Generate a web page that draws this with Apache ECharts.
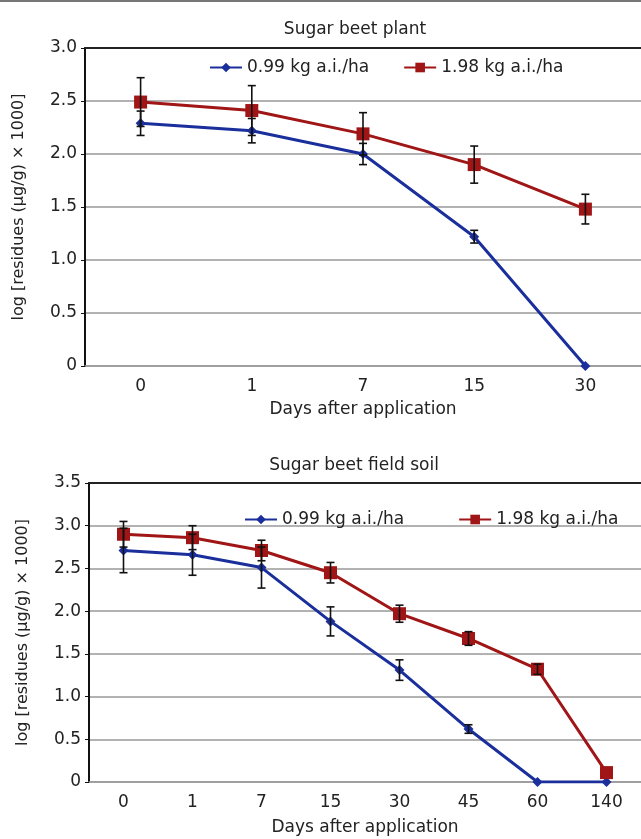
<!DOCTYPE html>
<html>
<head>
<meta charset="utf-8">
<script src="https://cdn.jsdelivr.net/npm/echarts@6/dist/echarts.min.js"></script>
<style>
  html, body { margin: 0; padding: 0; background: #fff; }
  #chart { width: 641px; height: 839px; }
</style>
</head>
<body>
<div id="chart"></div>
<script>
  // 上图：甜菜植株
  var plantDays = ['0', '1', '7', '15', '30'];
  var plant099 = [2.29, 2.22, 2.00, 1.22, 0];
  var plant198 = [2.49, 2.41, 2.19, 1.90, 1.48];
  var plantErr099 = [0.115, 0.115, 0.10, 0.06, 0];
  var plantErr198 = [0.23, 0.235, 0.20, 0.175, 0.14];

  // 下图：甜菜田土壤
  var soilDays = ['0', '1', '7', '15', '30', '45', '60', '140'];
  var soil099 = [2.71, 2.66, 2.51, 1.88, 1.31, 0.62, 0, 0];
  var soil198 = [2.90, 2.86, 2.71, 2.45, 1.97, 1.68, 1.32, 0.11];
  var soilErr099 = [0.26, 0.24, 0.24, 0.17, 0.12, 0.05, 0, 0];
  var soilErr198 = [0.15, 0.14, 0.12, 0.12, 0.10, 0.08, 0.06, 0];

  var name099 = '0.99 kg a.i./ha';
  var name198 = '1.98 kg a.i./ha';
  var blue = '#1a2f9c';
  var red = '#a01515';
  var font = 'DejaVu Sans, Liberation Sans, sans-serif';

  function errData(vals, errs) {
    var out = [];
    for (var i = 0; i < vals.length; i++) {
      if (errs[i] > 0) out.push([i, vals[i] - errs[i], vals[i] + errs[i]]);
    }
    return out;
  }

  function errItem(params, api) {
    var x = api.value(0);
    var top = api.coord([x, api.value(2)]);
    var bot = api.coord([x, api.value(1)]);
    var w = 4;
    var st = { stroke: '#111', lineWidth: 1.6 };
    return {
      type: 'group',
      children: [
        { type: 'line', shape: { x1: top[0], y1: top[1], x2: bot[0], y2: bot[1] }, style: st },
        { type: 'line', shape: { x1: top[0] - w, y1: top[1], x2: top[0] + w, y2: top[1] }, style: st },
        { type: 'line', shape: { x1: bot[0] - w, y1: bot[1], x2: bot[0] + w, y2: bot[1] }, style: st }
      ]
    };
  }

  function xAxisFor(idx, cats) {
    return {
      type: 'category', gridIndex: idx, data: cats,
      name: 'Days after application', nameLocation: 'middle', nameGap: idx === 0 ? 35 : 37,
      nameTextStyle: { fontSize: 17, color: '#222', fontFamily: font },
      axisLine: { lineStyle: { color: '#999', width: 1.5 } },
      axisTick: { length: 5, lineStyle: { color: '#777' } },
      axisLabel: { fontSize: 17, color: '#222', fontFamily: font, margin: 12 },
      splitLine: { show: false }
    };
  }

  function topBorder(idx, cats) {
    return {
      type: 'category', gridIndex: idx, data: cats, position: 'top',
      axisLine: { lineStyle: { color: '#222', width: 2 } },
      axisTick: { show: false }, axisLabel: { show: false }, splitLine: { show: false }
    };
  }

  function yAxisFor(idx, max) {
    return {
      type: 'value', gridIndex: idx, min: 0, max: max, interval: 0.5,
      name: 'log [residues (μg/g) × 1000]', nameLocation: 'middle', nameGap: 58,
      nameTextStyle: { fontSize: 16, color: '#222', fontFamily: font },
      axisLine: { show: true, lineStyle: { color: '#111', width: 2 } },
      axisTick: { show: true, length: 4, lineStyle: { color: '#111' } },
      axisLabel: {
        fontSize: 17, color: '#222', fontFamily: font, margin: 8,
        formatter: function (v) { return v === 0 ? '0' : v.toFixed(1); }
      },
      splitLine: { lineStyle: { color: '#999', width: 1.5 } }
    };
  }

  function lineSeries(name, data, idx, color, symbol, size) {
    return {
      name: name, type: 'line', xAxisIndex: idx * 2, yAxisIndex: idx, data: data,
      symbol: symbol, symbolSize: size,
      lineStyle: { color: color, width: 3 },
      itemStyle: { color: color },
      z: 3
    };
  }

  function errSeries(vals, errs, idx) {
    return {
      type: 'custom', xAxisIndex: idx * 2, yAxisIndex: idx,
      data: errData(vals, errs), renderItem: errItem, z: 5, silent: true
    };
  }

  var myChart = echarts.init(document.getElementById('chart'));
  var option = {
    animation: false,
    title: [
      { text: 'Sugar beet plant', left: 350, top: 16, textAlign: 'center',
        textStyle: { fontSize: 17, fontWeight: 'normal', color: '#222', fontFamily: font } },
      { text: 'Sugar beet field soil', left: 349, top: 452, textAlign: 'center',
        textStyle: { fontSize: 17, fontWeight: 'normal', color: '#222', fontFamily: font } }
    ],
    legend: [
      { data: [name099, name198], left: 204, top: 54, itemWidth: 32, itemHeight: 12, itemGap: 34,
        textStyle: { fontSize: 17, color: '#222', fontFamily: font } },
      { data: [name099, name198], left: 239, top: 506, itemWidth: 32, itemHeight: 12, itemGap: 54,
        textStyle: { fontSize: 17, color: '#222', fontFamily: font } }
    ],
    grid: [
      { left: 85, top: 48, width: 560, height: 318 },
      { left: 89, top: 483, width: 560, height: 299 }
    ],
    xAxis: [
      xAxisFor(0, plantDays), topBorder(0, plantDays),
      xAxisFor(1, soilDays), topBorder(1, soilDays)
    ],
    yAxis: [yAxisFor(0, 3.0), yAxisFor(1, 3.5)],
    graphic: [
      { type: 'line', shape: { x1: 0, y1: 1, x2: 641, y2: 1 }, style: { stroke: '#777', lineWidth: 2 } }
    ],
    series: [
      lineSeries(name099, plant099, 0, blue, 'diamond', 10),
      lineSeries(name198, plant198, 0, red, 'rect', 13),
      errSeries(plant099, plantErr099, 0),
      errSeries(plant198, plantErr198, 0),
      lineSeries(name099, soil099, 1, blue, 'diamond', 10),
      lineSeries(name198, soil198, 1, red, 'rect', 13),
      errSeries(soil099, soilErr099, 1),
      errSeries(soil198, soilErr198, 1)
    ]
  };
  myChart.setOption(option);
</script>
</body>
</html>
